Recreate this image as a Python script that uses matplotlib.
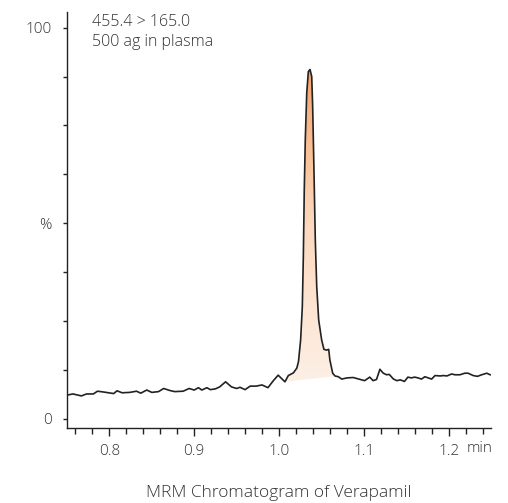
import numpy as np
import matplotlib.pyplot as plt
from matplotlib.colors import LinearSegmentedColormap

plt.rcParams['font.family'] = ['Open Sans', 'DejaVu Sans']
plt.rcParams['font.weight'] = 'light'

# retention time (min) and relative intensity (%)
time = [0.750, 0.757, 0.767, 0.773, 0.781, 0.786, 0.793, 0.805, 0.809, 0.815,
        0.824, 0.832, 0.837, 0.844, 0.850, 0.858, 0.864, 0.871, 0.877, 0.887,
        0.894, 0.900, 0.905, 0.909, 0.915, 0.919, 0.925, 0.930, 0.937, 0.944,
        0.950, 0.954, 0.960, 0.966, 0.973, 0.980, 0.987, 0.993, 0.999, 1.007,
        1.011, 1.017, 1.021, 1.023, 1.0255, 1.0275, 1.0287, 1.0298, 1.031, 1.0327,
        1.0346, 1.0366, 1.0386, 1.0397, 1.0413, 1.0428, 1.0445, 1.0468, 1.0503, 1.053,
        1.0562, 1.0586, 1.060, 1.0633, 1.066, 1.070, 1.074, 1.080, 1.0875, 1.0975,
        1.101, 1.107, 1.111, 1.115, 1.119, 1.123, 1.127, 1.130, 1.135, 1.139,
        1.143, 1.148, 1.152, 1.156, 1.160, 1.164, 1.168, 1.172, 1.176, 1.180,
        1.184, 1.190, 1.194, 1.198, 1.2036, 1.2075, 1.2134, 1.219, 1.223, 1.229,
        1.234, 1.239, 1.245, 1.249]
intensity = [6.1, 6.4, 5.9, 6.4, 6.4, 7.1, 6.9, 6.5, 7.2, 6.7,
             6.8, 7.1, 6.6, 7.4, 6.8, 7.0, 7.8, 7.3, 7.0, 7.1,
             7.8, 7.4, 8.0, 7.4, 8.0, 7.5, 7.7, 8.2, 9.5, 8.2,
             7.8, 8.1, 7.5, 8.4, 8.4, 8.7, 8.0, 9.7, 11.2, 9.5,
             11.1, 11.8, 13.0, 14.7, 20.2, 28.7, 41.5, 58.6, 71.4, 83.3,
             88.8, 89.3, 87.5, 79.9, 62.9, 45.8, 33.8, 25.3, 20.2, 17.8,
             17.6, 17.8, 15.1, 11.7, 11.0, 10.8, 10.2, 10.5, 10.6, 10.0,
             9.8, 10.7, 9.8, 10.1, 12.7, 11.7, 11.3, 11.4, 10.2, 9.8,
             10.0, 9.6, 10.7, 10.5, 10.7, 10.5, 10.2, 10.8, 10.5, 10.2,
             11.1, 11.0, 11.1, 11.0, 11.5, 11.3, 11.3, 11.7, 11.7, 11.1,
             10.9, 11.3, 11.7, 11.3]

# integration baseline of the peak
peak_start = (1.007, 9.5)
peak_end = (1.064, 10.9)

annotation = '455.4 > 165.0\n500 ag in plasma'
title = 'MRM Chromatogram of Verapamil'

grey = '#333333'
t = np.array(time)
y = np.array(intensity)

fig = plt.figure(figsize=(5.08, 5.03), dpi=100)
ax = fig.add_axes([67 / 508, 75 / 503, 424 / 508, 416 / 503])

# shaded peak area with vertical gradient
mask = (t >= peak_start[0]) & (t <= peak_end[0])
tp = np.concatenate([[peak_start[0]], t[mask], [peak_end[0]]])
yp = np.concatenate([[peak_start[1]], y[mask], [np.interp(peak_end[0], t, y)]])
base = np.interp(tp, [peak_start[0], peak_end[0]], [peak_start[1], peak_end[1]])
poly = ax.fill_between(tp, base, yp, color='none', lw=0)
cmap = LinearSegmentedColormap.from_list('peak', ['#fdf0e6', '#fcd9bf', '#f6a56c'])
grad = np.linspace(0, 1, 256).reshape(-1, 1)
img = ax.imshow(grad, cmap=cmap, origin='lower', aspect='auto',
                extent=[peak_start[0], peak_end[0], 9, y.max()], zorder=1)
img.set_clip_path(poly.get_paths()[0], transform=ax.transData)

ax.plot(t, y, color='#222222', lw=1.2, zorder=2)

ax.set_xlim(0.75, 1.25)
ax.set_ylim(-2.3, 104)
ax.spines['top'].set_visible(False)
ax.spines['right'].set_visible(False)
for s in ['left', 'bottom']:
    ax.spines[s].set_linewidth(1.0)
    ax.spines[s].set_color('#222222')

ax.set_xticks([0.8, 0.9, 1.0, 1.1, 1.2])
ax.set_xticklabels(['0.8', '0.9', '1.0', '1.1', '1.2'])
ax.set_xticks(np.arange(0.76, 1.25, 0.02), minor=True)
ax.set_yticks(np.arange(0, 100.1, 12.5))
ax.set_yticklabels(['0', '', '', '', '%', '', '', '', '100'])
ax.tick_params(axis='x', which='major', length=5.5, width=1.0, pad=6,
               labelsize=11, labelcolor=grey, color='#222222')
ax.tick_params(axis='x', which='minor', length=4, width=1.0, color='#222222')
ax.tick_params(axis='y', length=3, width=1.0, pad=8, labelsize=11,
               labelcolor=grey, color='#222222')

fig.text(480 / 508, 1 - 448 / 503, 'min', ha='center', va='center',
         fontsize=11, color=grey)
ax.text(92, 503 - 14, annotation, transform=None, ha='left', va='top',
        fontsize=11.5, color=grey, linespacing=1.3)
fig.text(279 / 508, 1 - 493 / 503, title, ha='center', va='center',
         fontsize=12.5, color=grey)

fig.savefig('out.png', dpi=100)
